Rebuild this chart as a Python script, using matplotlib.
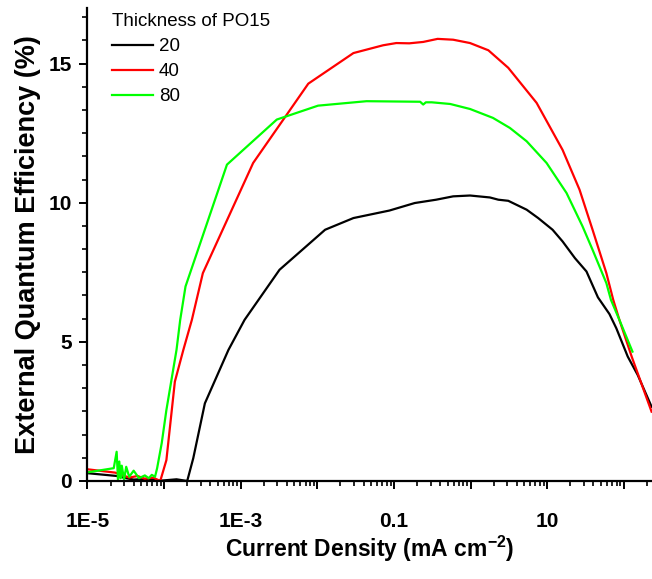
import numpy as np
import matplotlib.pyplot as plt
from matplotlib.ticker import FixedLocator, FuncFormatter, LogLocator, MultipleLocator, NullFormatter

plt.rcParams['font.family'] = ['Liberation Sans', 'DejaVu Sans']
plt.rcParams['mathtext.fontset'] = 'custom'
plt.rcParams['mathtext.rm'] = 'Liberation Sans'
plt.rcParams['mathtext.bf'] = 'Liberation Sans:bold'

# current density (mA cm^-2) and EQE (%)
j20 = [1.0e-5, 2.4e-5, 3.2e-5, 4.0e-5, 6.3e-5, 8.9e-5, 1.45e-4, 2.0e-4, 2.4e-4, 3.4e-4,
       6.9e-4, 1.12e-3, 3.2e-3, 0.0126, 0.0295, 0.087, 0.186, 0.355, 0.59, 0.98,
       1.78, 2.29, 3.09, 5.37, 7.59, 11.7, 15.8, 22.9, 32.4, 45.7,
       64.6, 79.4, 112, 151, 229]
eqe20 = [0.28, 0.18, 0.10, 0.05, 0.08, 0.01, 0.06, 0.0, 0.82, 2.79,
         4.71, 5.79, 7.59, 9.03, 9.45, 9.72, 9.99, 10.11, 10.23, 10.26,
         10.19, 10.11, 10.07, 9.75, 9.45, 9.03, 8.61, 8.01, 7.53, 6.6,
         6.0, 5.49, 4.47, 3.81, 2.67]

j40 = [1.0e-5, 2.3e-5, 2.8e-5, 3.5e-5, 4.5e-5, 5.6e-5, 7.2e-5, 8.9e-5, 1.07e-4, 1.38e-4,
       1.78e-4, 2.3e-4, 3.2e-4, 1.45e-3, 7.6e-3, 0.0295, 0.072, 0.107, 0.158, 0.24,
       0.37, 0.59, 0.98, 1.70, 3.09, 7.24, 15.8, 26.3, 38.9, 58.9,
       72.4, 87.1, 126, 229]
eqe40 = [0.42, 0.30, 0.22, 0.12, 0.18, 0.08, 0.12, 0.0, 0.75, 3.57,
         4.71, 5.79, 7.47, 11.43, 14.28, 15.38, 15.66, 15.74, 15.73, 15.78,
         15.89, 15.86, 15.74, 15.48, 14.85, 13.59, 11.9, 10.47, 9.03, 7.47,
         6.51, 5.79, 4.47, 2.49]

j80 = [1.0e-5, 2.2e-5, 2.4e-5, 2.5e-5, 2.6e-5, 2.7e-5, 2.8e-5, 3.0e-5, 3.2e-5, 3.5e-5,
       4.0e-5, 4.7e-5, 5.6e-5, 6.3e-5, 6.9e-5, 7.6e-5, 8.1e-5, 9.3e-5, 1.07e-4, 1.45e-4,
       1.62e-4, 1.9e-4, 6.6e-4, 2.95e-3, 0.0102, 0.0437, 0.219, 0.24, 0.26, 0.31,
       0.54, 0.98, 1.95, 3.24, 5.37, 9.77, 17.8, 28.8, 38.9, 58.9,
       67.6, 87.1, 129]
eqe80 = [0.31, 0.46, 1.05, 0.05, 0.7, 0.1, 0.55, 0.05, 0.51, 0.15,
         0.37, 0.1, 0.2, 0.1, 0.22, 0.15, 0.46, 1.36, 2.55, 4.71,
         5.79, 6.99, 11.37, 12.99, 13.49, 13.65, 13.63, 13.53, 13.61, 13.61,
         13.55, 13.37, 13.05, 12.69, 12.21, 11.43, 10.35, 9.15, 8.31, 7.11,
         6.51, 5.79, 4.65]

labels = ['20', '40', '80']
colors = ['black', '#ff0000', '#00ff00']

fig = plt.figure(figsize=(6.52, 5.79), dpi=100)
ax = fig.add_axes([0.1342, 0.1693, 0.8658, 0.8169])

for j, e, lab, c in zip([j20, j40, j80], [eqe20, eqe40, eqe80], labels, colors):
    ax.plot(j, e, color=c, lw=1.6, label=lab)

ax.set_xscale('log')
ax.set_xlim(1e-5, 232)
ax.set_ylim(0, 17)

decades = [10.0 ** k for k in range(-5, 3)]
ax.xaxis.set_major_locator(FixedLocator(decades))
lab_map = {-5: '1E-5', -3: '1E-3', -1: '0.1', 1: '10'}
ax.xaxis.set_major_formatter(FuncFormatter(
    lambda v, p: lab_map.get(int(round(np.log10(v))), '')))
ax.xaxis.set_minor_locator(LogLocator(base=10, subs=np.arange(2, 10), numticks=20))
ax.xaxis.set_minor_formatter(NullFormatter())

ax.yaxis.set_major_locator(MultipleLocator(5))
ax.yaxis.set_minor_locator(MultipleLocator(5 / 6))

for s in ['top', 'right']:
    ax.spines[s].set_visible(False)
for s in ['left', 'bottom']:
    ax.spines[s].set_linewidth(1.6)

ax.tick_params(which='major', direction='out', length=6, width=1.4, labelsize=15)
ax.tick_params(which='minor', direction='out', length=3.5, width=1.2)
ax.tick_params(axis='x', which='major', pad=16)
ax.tick_params(axis='y', which='major', pad=5)
for t in ax.get_xticklabels() + ax.get_yticklabels():
    t.set_fontweight('bold')

ax.set_xlabel(r'Current Density (mA cm$^{\mathbf{-2}}$)', fontsize=16.5, fontweight='bold', labelpad=2)
ax.set_ylabel('External Quantum Efficiency (%)', fontsize=19.5, fontweight='bold', labelpad=6)

leg = ax.legend(title='Thickness of PO15', loc='upper left', bbox_to_anchor=(0.03, 1.005),
                frameon=False, fontsize=13.5, title_fontsize=13.5, handlelength=2.2,
                handletextpad=0.3, labelspacing=0.42, borderaxespad=0)
leg._legend_box.align = 'left'

fig.savefig('out.png', dpi=100)
